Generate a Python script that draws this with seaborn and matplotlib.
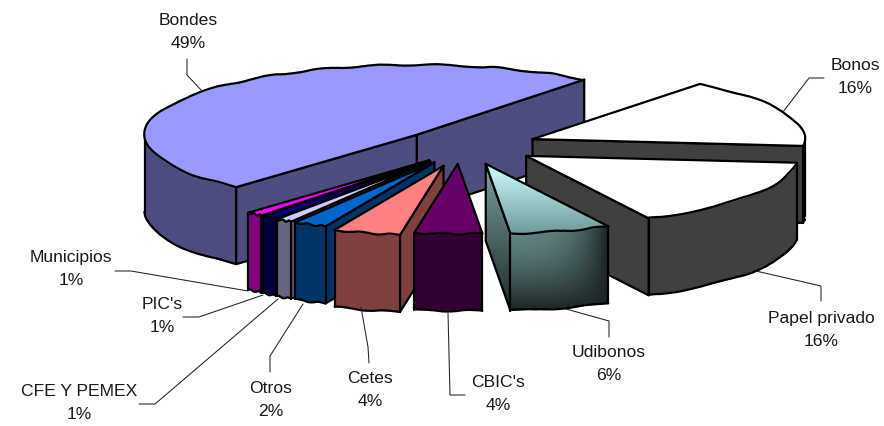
import numpy as np
import pandas as pd
import seaborn as sns
import matplotlib
matplotlib.use("Agg")
import matplotlib.pyplot as plt
from matplotlib.patches import Polygon
from matplotlib.colors import to_rgb

# Portfolio composition, in percent
names = ["Bondes", "Municipios", "PIC's", "CFE Y PEMEX", "Otros", "Cetes",
         "CBIC's", "Udibonos", "Papel privado", "Bonos"]
shares = [49, 1, 1, 1, 2, 4, 4, 6, 16, 16]
top_colors = ["#9999FF", "#FF00FF", "#000080", "#CCCCFF", "#0066CC", "#FF8080",
              "#660066", "#CCFFFF", "#FFFFFF", "#FFFFFF"]
side_colors = ["#4D4D80", "#800080", "#000040", "#666680", "#003366", "#804040",
               "#330033", "#3F5C5C", "#404040", "#404040"]

# Pie geometry, in figure pixels
CENTER = (468.0, 145.0)
RX, RY = 272.0, 70.0
DEPTH = 77.0
START_ANGLE = -52.0
explode = {"Bondes": 0.25, "Municipios": 0.23, "PIC's": 0.23, "CFE Y PEMEX": 0.23,
           "Otros": 0.23, "Cetes": 0.28, "CBIC's": 0.24, "Udibonos": 0.25,
           "Papel privado": 0.25, "Bonos": 0.25}
# Small shifts of each exploded slice on top of the radial offset
nudge = {"Bondes": (1, 1), "Municipios": (1, 3), "PIC's": (-1, 3), "CFE Y PEMEX": (-4, 3),
         "Otros": (-5, 3), "Cetes": (-3, 2), "CBIC's": (-8, 2), "Udibonos": (-1, 2),
         "Papel privado": (2, 1), "Bonos": (2, 1)}
draw_order = ["Bondes", "Bonos", "Papel privado", "Municipios", "PIC's", "CFE Y PEMEX",
              "Otros", "Cetes", "CBIC's", "Udibonos"]

# Label centres and leader-line routes
label_pos = {"Bondes": (188, 32), "Bonos": (855, 77), "Papel privado": (821, 330),
             "Udibonos": (609, 364), "CBIC's": (498, 394), "Cetes": (370, 390),
             "Otros": (271, 400), "CFE Y PEMEX": (79, 403), "PIC's": (162, 316),
             "Municipios": (71, 269)}
leaders = {"Bondes": [(187, 59), (187, 75), (202, 91)],
           "Bonos": [(824, 78), (809, 78), (783, 112)],
           "Papel privado": [(756, 271), (821, 286), (821, 301)],
           "Udibonos": [(566, 309), (609, 321), (609, 337)],
           "CBIC's": [(448, 313), (450, 395), (465, 395)],
           "Cetes": [(361, 307), (368, 347), (369, 363)],
           "Otros": [(303, 304), (270, 356), (270, 372)],
           "CFE Y PEMEX": [(278, 299), (155, 404), (139, 404)],
           "PIC's": [(263, 295), (199, 317), (183, 317)],
           "Municipios": [(248, 291), (131, 271), (115, 271)]}

OUTLINE = 1.6
SKETCH = (0.8, 70, 3)

sns.set_theme(style="white")
plt.rcParams["font.family"] = ["Liberation Sans", "DejaVu Sans"]

fig = plt.figure(figsize=(8.84, 4.26), dpi=100)
ax = fig.add_axes([0, 0, 1, 1])
sns.despine(ax=ax, left=True, bottom=True)
ax.set_xticks([])
ax.set_yticks([])
W, H = 884, 426

df = pd.DataFrame({"name": names, "share": shares, "top": top_colors, "side": side_colors})
span = df["share"] / df["share"].sum() * 360.0
df["hi"] = START_ANGLE - np.r_[0.0, span.cumsum().values[:-1]]
df["lo"] = df["hi"] - span
df = df.set_index("name")

zorder = [1]


def next_z():
    zorder[0] += 1
    return zorder[0]


def rim(apex, angles):
    t = np.radians(angles)
    return np.column_stack([apex[0] + RX * np.cos(t), apex[1] + RY * np.sin(t)])


def stroke(points, sketch=False, lw=OUTLINE):
    pts = np.asarray(points)
    line, = ax.plot(pts[:, 0], pts[:, 1], color="black", lw=lw, zorder=next_z(),
                    solid_capstyle="round", solid_joinstyle="round")
    if sketch:
        line.set_sketch_params(*SKETCH)


def fill(points, color):
    ax.add_patch(Polygon(points, closed=True, facecolor=color, edgecolor=color,
                         lw=0.4, zorder=next_z()))


def shaded(points, image):
    pts = np.asarray(points)
    patch = Polygon(pts, closed=True, facecolor="none", edgecolor="none", zorder=next_z())
    ax.add_patch(patch)
    im = ax.imshow(image, extent=(pts[:, 0].min(), pts[:, 0].max(), pts[:, 1].max(), pts[:, 1].min()),
                   aspect="auto", interpolation="bilinear", zorder=next_z())
    im.set_clip_path(patch)


def lerp_image(c0, c1, weight):
    c0, c1 = np.array(to_rgb(c0)), np.array(to_rgb(c1))
    return np.clip(c0 + (c1 - c0) * weight[..., None], 0, 1)


def grid(n=128):
    return np.meshgrid(np.linspace(0, 1, n), np.linspace(0, 1, n))


def draw_radial_wall(apex, edge_angle, other_angle, color, gradient):
    p = rim(apex, [edge_angle])[0]
    q = rim(apex, [other_angle])[0]
    e = p - np.array(apex)
    o = q - np.array(apex)
    # the wall shows when the slice's interior lies above its radial edge
    if e[0] * (e[0] * o[1] - e[1] * o[0]) >= 0:
        return
    quad = [apex, p, p + [0, DEPTH], np.array(apex) + [0, DEPTH]]
    if gradient:
        u, v = grid()
        shaded(quad, lerp_image("#7FA6A6", "#1E2B2B", v ** 0.9))
    else:
        fill(quad, color)
    stroke(list(quad) + [quad[0]])


def draw_slice(name):
    row = df.loc[name]
    mid = np.radians((row["hi"] + row["lo"]) / 2)
    e = explode[name]
    apex = (CENTER[0] + e * RX * np.cos(mid) + nudge[name][0],
            CENTER[1] + e * RY * np.sin(mid) + nudge[name][1])
    gradient = name == "Udibonos"

    draw_radial_wall(apex, row["hi"], row["lo"], row["side"], gradient)
    draw_radial_wall(apex, row["lo"], row["hi"], row["side"], gradient)

    # outer wall: only the part of the rim that faces the viewer
    lo, hi = max(row["lo"], -360.0), min(row["hi"], -180.0)
    if hi > lo:
        arc = rim(apex, np.linspace(lo, hi, 80))
        bottom = arc + [0, DEPTH]
        outline = np.vstack([arc, bottom[::-1]])
        if gradient:
            u, v = grid()
            shade = 1 - (1 - v ** 1.5) * (1 - u ** 3)
            shaded(outline, lerp_image("#648686", "#1A2423", shade))
        else:
            fill(outline, row["side"])
        stroke(bottom, sketch=True)
        stroke([arc[0], bottom[0]])
        stroke([arc[-1], bottom[-1]])

    # top face
    arc = rim(apex, np.linspace(row["lo"], row["hi"], 120))
    top = np.vstack([[apex], arc])
    if gradient:
        u, v = grid()
        shaded(top, lerp_image("#CCFFFF", "#6E9A9A", v))
    else:
        fill(top, row["top"])
    stroke([arc[-1], apex, arc[0]])
    stroke(arc, sketch=True)


for slice_name in draw_order:
    draw_slice(slice_name)

for slice_name, route in leaders.items():
    pts = np.array(route)
    ax.plot(pts[:, 0], pts[:, 1], color="#222222", lw=0.75, zorder=next_z())

for slice_name in names:
    x, y = label_pos[slice_name]
    ax.text(x, y, f"{slice_name}\n{df.loc[slice_name, 'share']}%", ha="center", va="center",
            fontsize=12.6, color="#1a1a1a", linespacing=1.72, zorder=next_z())

ax.set_xlim(0, W)
ax.set_ylim(H, 0)
fig.savefig("out.png", dpi=100, facecolor="white")
